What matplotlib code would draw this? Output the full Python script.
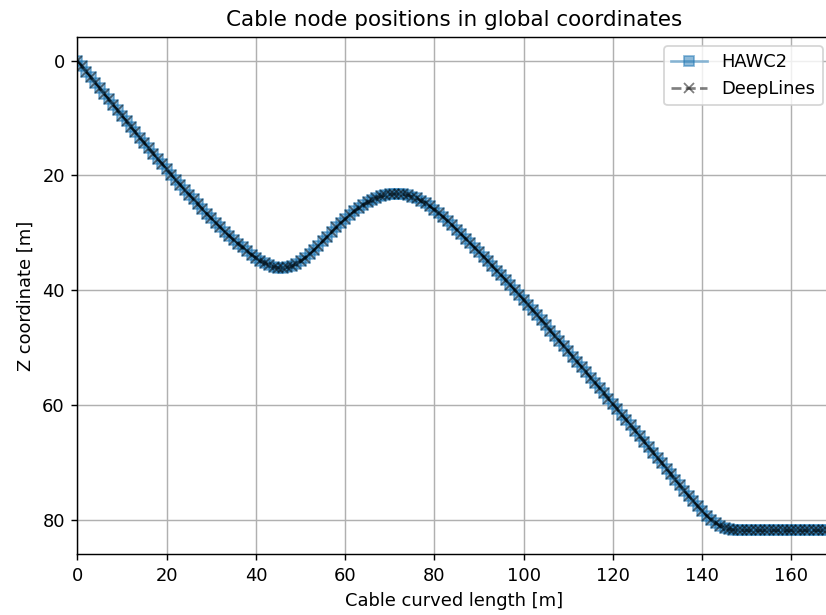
"""Cable node positions along the curved length, HAWC2 vs DeepLines."""

import matplotlib

matplotlib.use("Agg")
import matplotlib.pyplot as plt

# Curved length of each cable node [m], one node per metre
curved_length = list(range(0, 171))

# Z coordinate of each node [m], positive downwards
hawc2_z = [
    0.00, 0.97, 1.94, 2.91, 3.88, 4.85, 5.82, 6.78, 7.74, 8.70,
    9.66, 10.61, 11.56, 12.50, 13.44, 14.37, 15.30, 16.22, 17.14, 18.05,
    18.96, 19.86, 20.75, 21.63, 22.50, 23.36, 24.21, 25.05, 25.88, 26.70,
    27.50, 28.28, 29.05, 29.80, 30.53, 31.24, 31.92, 32.57, 33.25, 33.87,
    34.42, 34.91, 35.33, 35.68, 35.94, 36.10, 36.14, 36.04, 35.80, 35.44,
    34.97, 34.40, 33.75, 33.04, 32.28, 31.49, 30.68, 29.88, 29.09, 28.33,
    27.61, 26.93, 26.30, 25.72, 25.19, 24.72, 24.31, 23.96, 23.68, 23.47,
    23.33, 23.26, 23.26, 23.33, 23.49, 23.72, 24.03, 24.42, 24.88, 25.40,
    25.98, 26.61, 27.28, 27.99, 28.73, 29.50, 30.26, 31.03, 31.81, 32.60,
    33.39, 34.19, 35.00, 35.81, 36.63, 37.45, 38.28, 39.11, 39.95, 40.79,
    41.64, 42.54, 43.44, 44.34, 45.24, 46.14, 47.04, 47.95, 48.86, 49.77,
    50.68, 51.59, 52.50, 53.41, 54.32, 55.23, 56.14, 57.06, 57.98, 58.90,
    59.82, 60.75, 61.68, 62.61, 63.55, 64.49, 65.43, 66.39, 67.35, 68.30,
    69.25, 70.20, 71.15, 72.10, 73.05, 74.00, 74.94, 75.87, 76.78, 77.67,
    78.51, 79.29, 79.99, 80.58, 81.05, 81.40, 81.63, 81.77, 81.84, 81.87,
    81.88, 81.88, 81.88, 81.88, 81.88, 81.88, 81.88, 81.88, 81.88, 81.88,
    81.88, 81.88, 81.88, 81.88, 81.88, 81.88, 81.88, 81.88, 81.88, 81.88,
    81.88,
]

# DeepLines nodes sit on the same positions
deeplines_z = list(hawc2_z)

DPI = 129
fig = plt.figure(figsize=(826 / DPI, 615 / DPI), dpi=DPI)
ax = fig.add_axes([0.0938, 0.0992, 0.913, 0.8406])

ax.plot(curved_length, hawc2_z, "s-", color="#1f77b4", alpha=0.5, label="HAWC2")
ax.plot(curved_length, deeplines_z, "x--", color="k", alpha=0.5, label="DeepLines")

ax.set_xlim(0, 169)
ax.invert_yaxis()
ax.set_xlabel("Cable curved length [m]")
ax.set_ylabel("Z coordinate [m]")
ax.set_title("Cable node positions in global coordinates")
ax.grid(True)
ax.legend(loc="upper right")

fig.savefig("out.png", dpi=DPI)
